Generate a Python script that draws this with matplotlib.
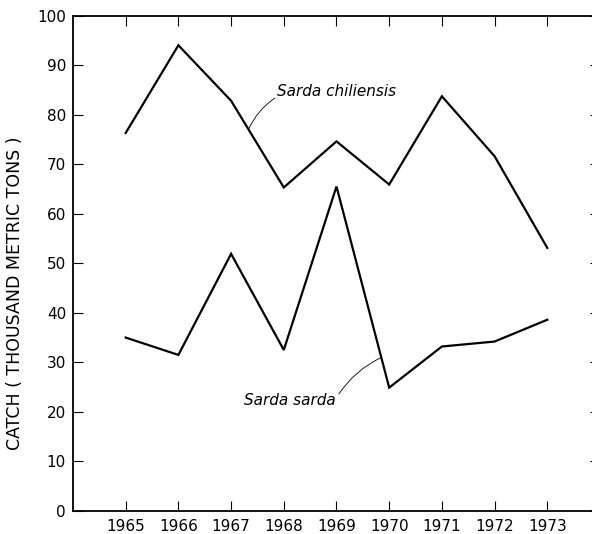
import matplotlib
matplotlib.use("Agg")
import matplotlib.pyplot as plt
import numpy as np

# Annual catch, thousand metric tons
years = [1965, 1966, 1967, 1968, 1969, 1970, 1971, 1972, 1973]
sarda_chiliensis = [76.3, 94.0, 82.8, 65.3, 74.6, 65.9, 83.7, 71.6, 53.1]
sarda_sarda = [35.0, 31.5, 51.9, 32.5, 65.5, 24.9, 33.2, 34.2, 38.6]
y_ticks = [0, 10, 20, 30, 40, 50, 60, 70, 80, 90, 100]

plt.rcParams["font.family"] = ["DejaVu Sans"]

fig = plt.figure(figsize=(5.92, 5.34), dpi=100)
ax = fig.add_axes([0.1233, 0.0431, 0.8902, 0.9278])

ax.plot(years, sarda_chiliensis, color="black", lw=1.6, solid_joinstyle="miter")
ax.plot(years, sarda_sarda, color="black", lw=1.6, solid_joinstyle="miter")

ax.set_xlim(1964, 1974)
ax.set_ylim(0, 100)
ax.set_xticks(years)
ax.set_xticklabels([str(y) for y in years], fontsize=11)
ax.set_yticks(y_ticks)
ax.set_yticklabels([str(v) for v in y_ticks], fontsize=11)
ax.tick_params(axis="both", direction="in", length=7, width=0.8,
               top=True, right=True, pad=5)
ax.tick_params(axis="x", pad=6)
for s in ax.spines.values():
    s.set_linewidth(1.3)

ax.set_ylabel("CATCH ( THOUSAND METRIC TONS )", fontsize=12.5)
ax.yaxis.set_label_coords(-0.093, 0.44)


def point_on(series, i, frac):
    x = years[i] + frac * (years[i + 1] - years[i])
    y = series[i] + frac * (series[i + 1] - series[i])
    return x, y


# Series labels with thin leader lines
ax.annotate("Sarda chiliensis", xy=point_on(sarda_chiliensis, 2, 0.33),
            xytext=(1967.88, 84.6), fontsize=11, style="italic",
            ha="left", va="center",
            arrowprops=dict(arrowstyle="-", lw=0.6, color="black",
                            shrinkA=0, shrinkB=0,
                            connectionstyle="arc3,rad=0.15",
                            relpos=(0.0, 0.2)))
ax.annotate("Sarda sarda", xy=point_on(sarda_sarda, 4, 0.85),
            xytext=(1967.25, 22.4), fontsize=11, style="italic",
            ha="left", va="center",
            arrowprops=dict(arrowstyle="-", lw=0.6, color="black",
                            shrinkA=0, shrinkB=0,
                            connectionstyle="arc3,rad=-0.15",
                            relpos=(1.0, 0.6)))

fig.savefig("out.png", dpi=100)
